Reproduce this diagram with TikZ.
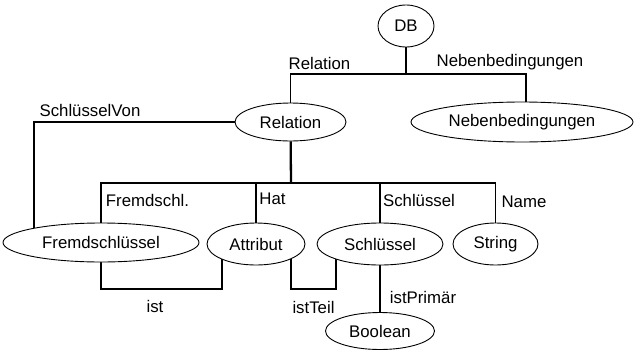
\documentclass[tikz,border=0pt]{standalone}
\usepackage{fontspec}
\setmainfont{Liberation Sans}
\usetikzlibrary{shapes.geometric,backgrounds}

\tikzset{
  entity/.style={ellipse, draw, fill=white, inner sep=0pt, line width=0.9pt},
  link/.style={line width=1.2pt},
  trunk/.style={line width=2.3pt},
  lbl/.style={inner sep=0pt},
  every node/.style={font=\fontsize{16.8}{20}\selectfont}
}

\begin{document}
\begin{tikzpicture}[x=1pt, y=-1pt]
  \useasboundingbox (0,0) rectangle (634,351);

  % entities
  \node[entity, minimum width=56, minimum height=42] (db) at (406,26) {DB};
  \node[entity, minimum width=111, minimum height=38] (rel) at (290.5,122) {Relation};
  \node[entity, minimum width=222, minimum height=40] (neb) at (522,122) {Nebenbedingungen};
  \node[entity, minimum width=196, minimum height=39] (fk) at (101,242.5) {Fremdschlüssel};
  \node[entity, minimum width=98, minimum height=42] (attr) at (256,244) {Attribut};
  \node[entity, minimum width=126, minimum height=42] (key) at (380,244) {Schlüssel};
  \node[entity, minimum width=85, minimum height=42] (str) at (495.5,244) {String};
  \node[entity, minimum width=109, minimum height=37] (bool) at (380,331) {Boolean};

  % role names
  \foreach \name/\x/\y/\text in {
    lrel/319.5/63/Relation, lneb/510/62/Nebenbedingungen, lvon/90/110/SchlüsselVon,
    lfk/147.5/200/Fremdschl., lhat/272.5/199/Hat, lkey/419/200/Schlüssel,
    lname/524/202/Name, list/155/306/ist, lteil/313.5/307/istTeil, lprim/423/297/istPrimär}
    \node[lbl] (\name) at (\x,\y) {\text};

  % bends of the connectors
  \coordinate (topbar) at (406,74);
  \coordinate (nebtop) at (526,74);
  \coordinate (midbar) at (291,183);
  \coordinate (vonknick) at (34,122);
  \coordinate (istknick) at (222,289);
  \coordinate (teilL) at (291,289);
  \coordinate (teilR) at (336,289);

  \begin{scope}[on background layer]
    \draw[trunk] (db) -- (topbar);
    \draw[link] (rel) |- (topbar) -- (nebtop) -- (nebtop |- neb.center);
    \draw[link] (rel) -- (vonknick) -- (vonknick |- fk.center);

    \draw[trunk] (rel) -- (midbar);
    \draw[trunk] (attr |- midbar) -- (key |- midbar);
    \draw[link] (fk) |- (attr |- midbar) -- (attr);
    \draw[link] (key) -- (key |- midbar) -| (str);

    \draw[link] (fk) |- (istknick) -- (istknick |- attr.center);
    \draw[link] (teilL |- attr.center) -- (teilL) -- (teilR) -- (teilR |- key.center);
    \draw[link] (key) -- (bool);
  \end{scope}
\end{tikzpicture}
\end{document}
